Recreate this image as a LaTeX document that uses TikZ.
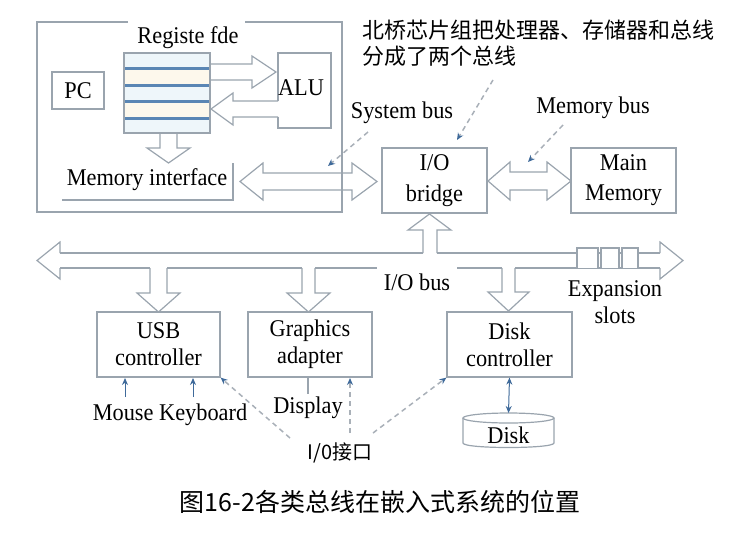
\documentclass[tikz,border=0pt]{standalone}
\usepackage{fontspec}
\setmainfont{Liberation Serif}[FakeStretch=0.93]
\newfontfamily\cjk{Noto Sans CJK SC}
\usetikzlibrary{arrows.meta}
\definecolor{ol}{HTML}{9AA4AE}
\definecolor{stripe}{HTML}{5A86B4}
\definecolor{tipc}{HTML}{3F6A9A}
\definecolor{dashc}{HTML}{A9B0B8}
\definecolor{bandc}{HTML}{EEF6FA}
\definecolor{bandy}{HTML}{FDF8EC}
\tikzset{
  lbl/.style={inner sep=0pt, font=\fontsize{24}{27}\selectfont, align=center},
  boxn/.style={draw=ol, line width=1.2pt, inner sep=0pt, font=\fontsize{24}{27}\selectfont, align=center},
  blk/.style={draw=ol, line width=1.2pt, line join=miter},
  note/.style={draw=dashc, line width=1.5pt, dash pattern=on 5pt off 4pt, -{Stealth[length=7pt,width=6pt,color=tipc]}},
  thin/.style={draw=tipc, line width=1pt},
}
\begin{document}
\begin{tikzpicture}[x=1pt,y=-1pt]
\useasboundingbox (0,0) rectangle (747,533);
% CPU outline
\draw[blk] (128,22) -- (37,22) -- (37,212) -- (342,212) -- (342,22) -- (245,22);
\node[lbl] (regt) at (188,38) {Registe fde};
% register file
\fill[bandc] (124,53) rectangle (210,133);
\fill[bandy] (124,68) rectangle (210,85);
\fill[bandy] (124,101) rectangle (210,118);
\foreach \yy in {68,85,101,118} \draw[stripe, line width=3pt] (124,\yy) -- (210,\yy);
\node[draw=ol, line width=1.2pt, minimum width=86, minimum height=80, inner sep=0pt] (reg) at (167,93) {};
% PC
\node[boxn, minimum width=52, minimum height=37] (pc) at (78,90.5) {PC};
% ALU
\draw[blk] (278,101) -- (278,53) -- (331,53) -- (331,128) -- (278,128) -- (278,117);
\node[lbl] (alu) at (301,88) {ALU};
% arrows reg <-> ALU
\draw[blk] (210,64) -- (252,64) -- (252,56) -- (276,72) -- (252,88) -- (252,80) -- (210,80);
\draw[blk] (278,101) -- (233,101) -- (233,93) -- (211,109) -- (233,125) -- (233,117) -- (278,117);
% down arrow to memory interface
\draw[blk] (160,133) -- (160,148) -- (147,148) -- (168.5,163) -- (190,148) -- (177,148) -- (177,133);
\node[lbl] (memif) at (147,180) {Memory interface};
\draw[blk] (62,200) -- (233,200) -- (233,163);
% system bus
\draw[blk] (263,173) -- (263,163) -- (240,181.5) -- (263,200) -- (263,190) -- (352,190) -- (352,200) -- (377,181.5) -- (352,163) -- (352,173) -- cycle;
% I/O bridge and main memory
\node[boxn, minimum width=105, minimum height=65, font=\fontsize{24}{31}\selectfont] (bridge) at (434.5,180.5) {I/O\\bridge};
\node[boxn, minimum width=105, minimum height=65, font=\fontsize{24}{30}\selectfont] (mainmem) at (623.5,180.5) {Main\\Memory};
% memory bus
\draw[blk] (510,172) -- (510,162) -- (488,181) -- (510,200) -- (510,190) -- (547,190) -- (547,200) -- (571,181) -- (547,162) -- (547,172) -- cycle;
% labels
\node[lbl] (sysbus) at (402,113) {System bus};
\node[lbl] (membus) at (593,108) {Memory bus};
\node[inner sep=0pt, anchor=north west, align=left, font=\cjk\fontsize{22}{26}\selectfont] (anno) at (362,20) {北桥芯片组把处理器、存储器和总线\\分成了两个总线};
% I/O bus
\draw[blk] (60,253) -- (60,242) -- (37,260.5) -- (60,279) -- (60,268);
\draw[blk] (660,253) -- (660,242) -- (683,260.5) -- (660,279) -- (660,268);
\draw[blk] (60,253) -- (423,253) (437,253) -- (660,253);
\draw[blk] (60,268) -- (150,268) (167,268) -- (302,268) (315,268) -- (377,268) (457,268) -- (502,268) (515,268) -- (660,268);
\foreach \xa/\xb in {577/598, 601/619, 622/638}
  \draw[blk, fill=white] (\xa,268) -- (\xa,248) -- (\xb,248) -- (\xb,268);
\node[lbl] (iobus) at (417,282) {I/O bus};
\node[lbl] (exp) at (615,302) {Expansion\\slots};
% up arrow to bridge
\draw[blk] (423,253) -- (423,230) -- (408,230) -- (429.5,214) -- (451,230) -- (437,230) -- (437,253);
% down arrows
\draw[blk] (150,268) -- (150,293) -- (137,293) -- (158.5,312) -- (180,293) -- (167,293) -- (167,268);
\draw[blk] (302,268) -- (302,293) -- (287,293) -- (308.5,312) -- (330,293) -- (315,293) -- (315,268);
\draw[blk] (502,268) -- (502,292) -- (488,292) -- (508.5,311) -- (529,292) -- (515,292) -- (515,268);
% controllers
\node[boxn, minimum width=123, minimum height=65] (usb) at (158.5,344.5) {USB\\controller};
\node[boxn, minimum width=124, minimum height=65] (gfx) at (310,344.5) {Graphics\\adapter};
\node[boxn, minimum width=125, minimum height=65] (diskc) at (509.5,344.5) {Disk\\controller};
% disk
\draw[blk] (508.5,418) ellipse [x radius=45.5, y radius=5];
\draw[blk] (463,418) -- (463,443) .. controls (463,449) and (554,449) .. (554,443) -- (554,418);
\node[lbl] (disk) at (508.5,435) {Disk};
\draw[thin, {Stealth[length=7pt,width=6pt]}-{Stealth[length=7pt,width=6pt]}] (diskc.south) -- (508.5,413);
% mouse keyboard
\node[lbl] (mk) at (170,415) {Mouse Keyboard};
\coordinate (mouse) at (125,397);
\coordinate (kbd) at (193,397);
\draw[thin, -{Stealth[length=7pt,width=6pt]}] (mouse) -- (125,378);
\draw[thin, -{Stealth[length=7pt,width=6pt]}] (kbd) -- (193,378);
% display
\node[lbl] (disp) at (308,408) {Display};
\draw[draw=ol, line width=1.2pt] (308,377) -- (308,394);
% I/O interface
\node[inner sep=0pt, font=\cjk\fontsize{20}{24}\selectfont] (ioif) at (340,453) {I/0接口};
% dashed pointers
\draw[note] (493,80) -- (457,140);
\draw[note] (368,132) -- (328,166);
\draw[note] (563,125) -- (528,162);
\draw[note] (290,438) -- (usb.south east);
\draw[note] (350,433) -- (350,378);
\draw[note] (373,433) -- (diskc.south west);
% caption
\node[inner sep=0pt, font=\cjk\fontsize{25}{30}\selectfont] (cap) at (380,502) {图16-2各类总线在嵌入式系统的位置};
\end{tikzpicture}
\end{document}
